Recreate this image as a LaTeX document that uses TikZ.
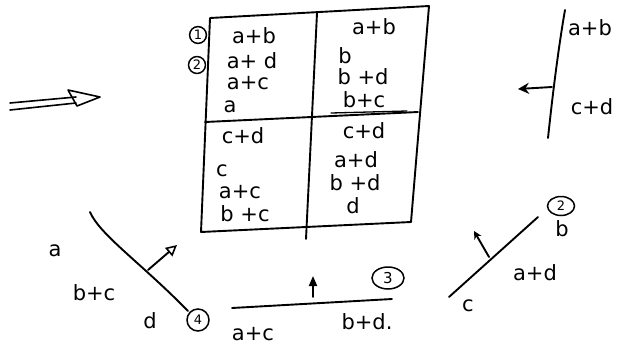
\documentclass[tikz,border=0pt]{standalone}
\usepackage{fontspec}
\setmainfont{DejaVu Sans}
\usetikzlibrary{arrows.meta,shapes.geometric}
\tikzset{
  ink/.style={line width=1.9pt, line cap=round, line join=round},
  hw/.style={font=\fontsize{21}{23}\selectfont, inner sep=0pt},
  circnum/.style={draw, circle, line width=1.5pt, inner sep=1.5pt, font=\fontsize{13}{14}\selectfont},
  opentip/.style={-{Triangle[open,length=11pt,width=11pt,line width=1.6pt]}},
  filltip/.style={-{Triangle[length=10pt,width=8pt]}}
}
\begin{document}
\begin{tikzpicture}[x=1pt,y=-1pt]
\useasboundingbox (0,0) rectangle (620,346);
% ---- table ----
\coordinate (tl) at (210,18);
\coordinate (tr) at (429,6);
\coordinate (br) at (411,222);
\coordinate (bl) at (201,232);
\coordinate (mt) at (317,13);
\coordinate (mb) at (306,239);
\coordinate (hl) at (205,122);
\coordinate (hr) at (418,112);
\draw[ink] (tl) -- (tr) -- (br) -- (bl) -- cycle;
\draw[ink] (mt) -- (mb);
\draw[ink] (hl) -- (hr);
% cell texts
\node[hw] (t1) at (254,36) {a+b};
\node[hw] (t2) at (252,61) {a+ d};
\node[hw] (t3) at (248,83) {a+c};
\node[hw] (t4) at (230,107) {a};
\node[hw] (t5) at (374,27) {a+b};
\node[hw] (t6) at (345,56) {b};
\node[hw] (t7) at (363,77) {b +d};
\node[hw] (t8) at (364,100) {b+c};
\coordinate (u1) at (331,113);
\coordinate (u2) at (407,111);
\draw[ink, line width=1.3pt] (u1) -- (u2);
\node[hw] (t9) at (243,136) {c+d};
\node[hw] (t10) at (222,171) {c};
\node[hw] (t11) at (240,192) {a+c};
\node[hw] (t12) at (245,214) {b +c};
\node[hw] (t13) at (364,131) {c+d};
\node[hw] (t14) at (356,160) {a+d};
\node[hw] (t15) at (355,183) {b +d};
\node[hw] (t16) at (353,206) {d};
\node[circnum] (c1) at (198,35) {1};
\node[circnum] (c2) at (197,65) {2};
% ---- double arrow ----
\coordinate (da1) at (10,103);
\coordinate (da2) at (76,97);
\coordinate (db1) at (10,110);
\coordinate (db2) at (76,103);
\coordinate (ta) at (68,90);
\coordinate (tb) at (77,106);
\coordinate (tc) at (100,97);
\draw[ink, line width=1.6pt] (da1) -- (da2);
\draw[ink, line width=1.6pt] (db1) -- (db2);
\draw[ink, line width=1.6pt] (ta) -- (tb) -- (tc) -- cycle;
% ---- right vertical line ----
\coordinate (rv1) at (565,10);
\coordinate (rv2) at (548,138);
\coordinate (rt1) at (552,87);
\coordinate (rt2) at (518,89);
\draw[ink] (rv1) .. controls (558,50) and (552,100) .. (rv2);
\draw[ink, -{Stealth[length=11pt,width=11pt]}] (rt1) -- (rt2);
\node[hw] (r1) at (590,28) {a+b};
\node[hw] (r2) at (592,107) {c+d};
% ---- bottom-left line ----
\coordinate (bl1) at (90,212);
\coordinate (bl2) at (188,311);
\coordinate (blt1) at (148,270);
\coordinate (blt2) at (177,245);
\draw[ink] (bl1) .. controls (100,235) and (140,262) .. (bl2);
\draw[ink, opentip] (blt1) -- (blt2);
\node[circnum, minimum size=22pt] (c4) at (198,320) {4};
\node[hw] (l1) at (55,251) {a};
\node[hw] (l2) at (94,293) {b+c};
\node[hw] (l3) at (150,321) {d};
% ---- bottom middle line ----
\coordinate (bm1) at (232,308);
\coordinate (bm2) at (392,299);
\coordinate (bmt1) at (313,297);
\coordinate (bmt2) at (313,276);
\draw[ink] (bm1) -- (bm2);
\draw[ink, filltip] (bmt1) -- (bmt2);
\node[draw, ellipse, line width=1.5pt, inner sep=1pt, minimum width=32pt, minimum height=22pt, font=\fontsize{15}{16}\selectfont] (c3) at (388,278) {3};
\node[hw] (m1) at (253,334) {a+c};
\node[hw] (m2) at (367,322) {b+d.};
% ---- bottom-right line ----
\coordinate (br1) at (449,297);
\coordinate (br2) at (538,217);
\coordinate (brt1) at (489,257);
\coordinate (brt2) at (474,231);
\draw[ink] (br1) -- (br2);
\draw[ink, -{Stealth[length=8pt,width=8pt]}] (brt1) -- (brt2);
\node[draw, ellipse, line width=1.5pt, inner sep=1pt, minimum width=27pt, minimum height=19pt, font=\fontsize{13}{14}\selectfont] (c5) at (561,206) {2};
\node[hw] (q1) at (562,229) {b};
\node[hw] (q2) at (535,273) {a+d};
\node[hw] (q3) at (468,306) {c};
\end{tikzpicture}
\end{document}
